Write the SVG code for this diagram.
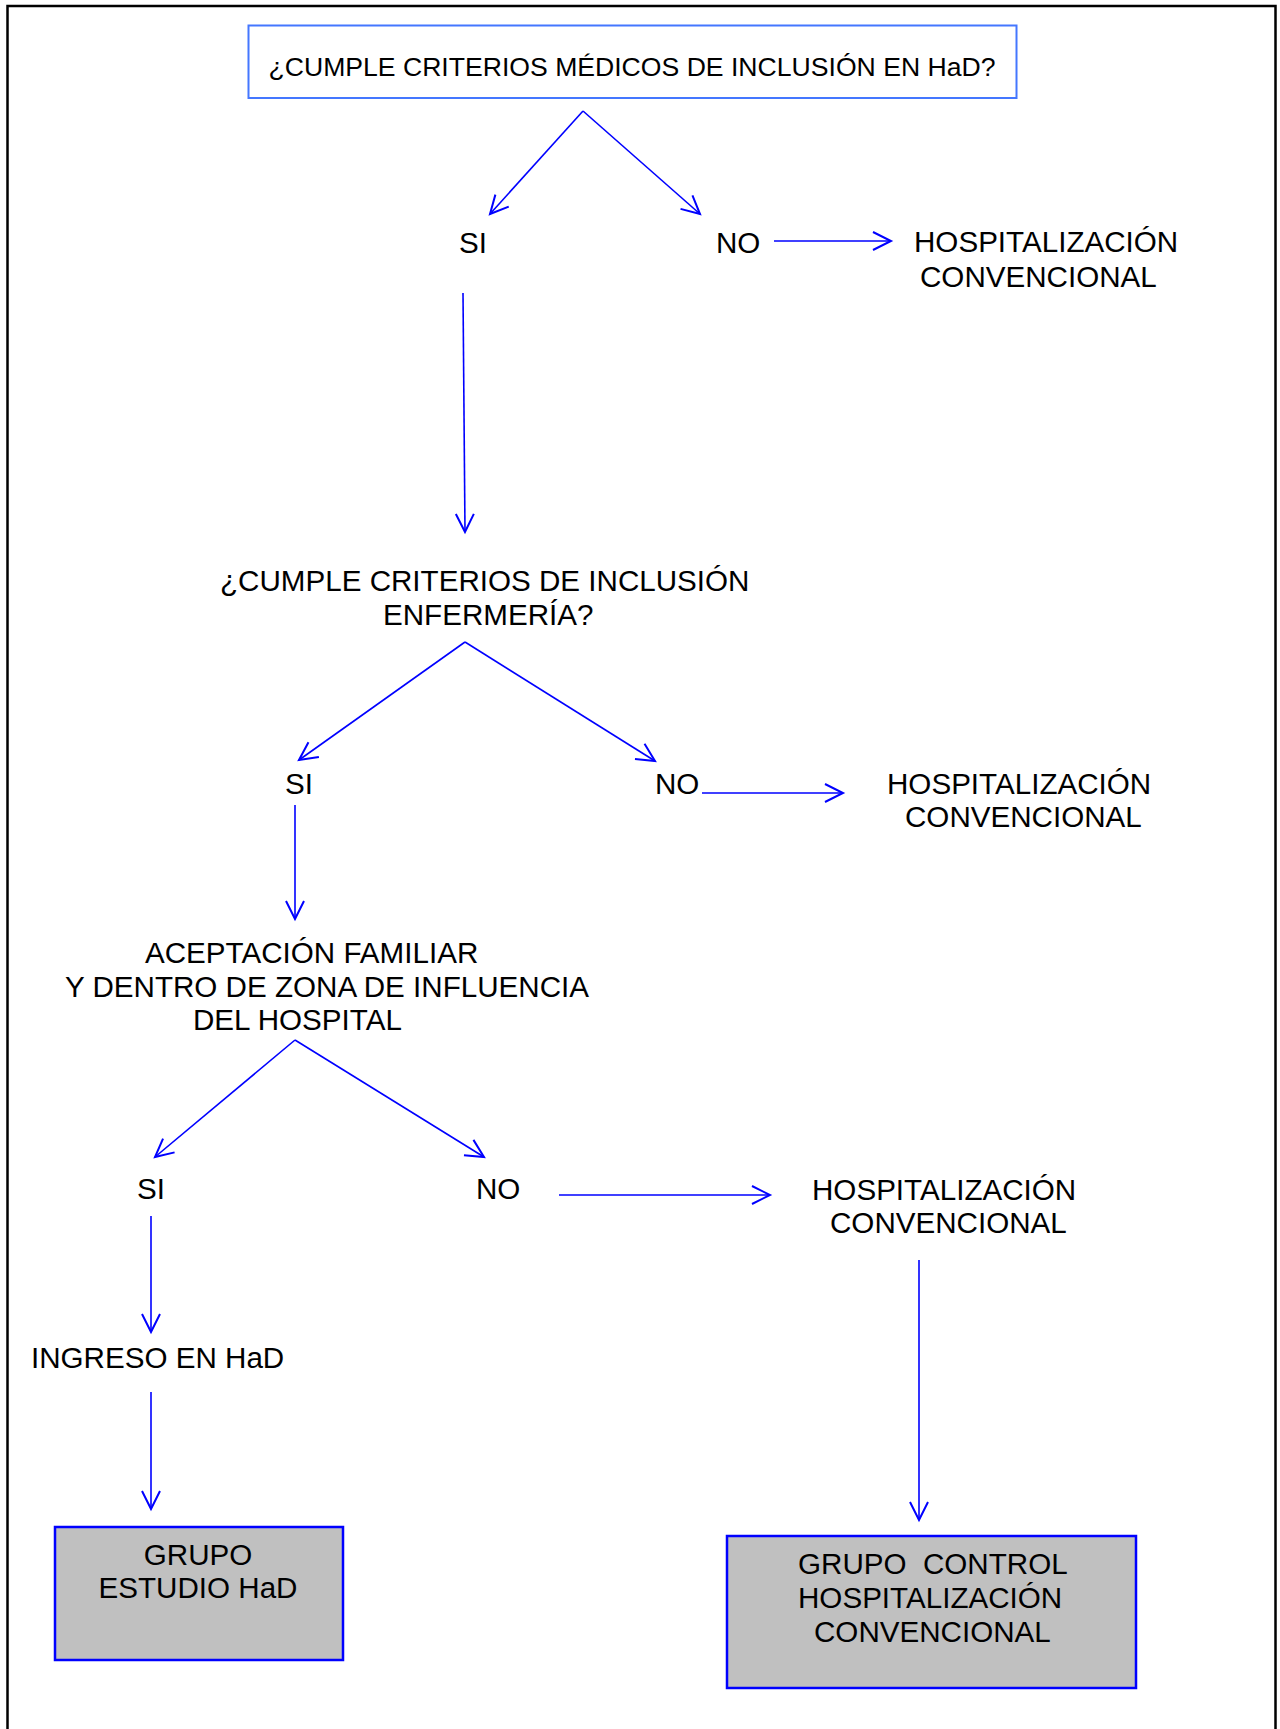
<svg xmlns="http://www.w3.org/2000/svg" width="1280" height="1729" viewBox="0 0 1280 1729">
<defs>
<marker id="arr" markerUnits="userSpaceOnUse" markerWidth="40" markerHeight="40" viewBox="-25 -20 40 40" refX="0" refY="0" orient="auto">
<path d="M-18,-9 L0,0 L-18,9" fill="none" stroke="#0000ff" stroke-width="2"/>
</marker>
</defs>
<style>
text{font-family:"Liberation Sans",Arial,sans-serif;font-size:29.6px;fill:#000}
.q{font-size:26.6px}
.c{fill:none;stroke:#0000ff;stroke-width:1.6;marker-end:url(#arr)}
.box{fill:#c0c0c0;stroke:#0000ff;stroke-width:2.5}
</style>
<rect x="0" y="0" width="1280" height="1729" fill="#fff"/>
<path d="M7.5,1729 V6 H1275.5 V1729" fill="none" stroke="#000" stroke-width="2.5"/>

<g id="q1">
<rect x="248.5" y="25.5" width="768" height="72.5" fill="#fff" stroke="#4477ff" stroke-width="2"/>
<text class="q" x="632" y="76" text-anchor="middle">¿CUMPLE CRITERIOS MÉDICOS DE INCLUSIÓN EN HaD?</text>
</g>
<g id="si1"><text x="459" y="253">SI</text></g>
<g id="no1"><text x="716" y="253">NO</text></g>
<g id="hc1"><text x="914" y="252">HOSPITALIZACIÓN</text><text x="920" y="287">CONVENCIONAL</text></g>

<g id="q2"><text x="220" y="591">¿CUMPLE CRITERIOS DE INCLUSIÓN</text><text x="383" y="625">ENFERMERÍA?</text></g>
<g id="si2"><text x="285" y="794">SI</text></g>
<g id="no2"><text x="655" y="794">NO</text></g>
<g id="hc2"><text x="887" y="794">HOSPITALIZACIÓN</text><text x="905" y="827">CONVENCIONAL</text></g>

<g id="q3"><text x="145" y="963">ACEPTACIÓN FAMILIAR</text><text x="65" y="997">Y DENTRO DE ZONA DE INFLUENCIA</text><text x="193" y="1030">DEL HOSPITAL</text></g>
<g id="si3"><text x="137" y="1199">SI</text></g>
<g id="no3"><text x="476" y="1199">NO</text></g>
<g id="hc3"><text x="812" y="1200">HOSPITALIZACIÓN</text><text x="830" y="1233">CONVENCIONAL</text></g>

<g id="ingreso"><text x="31" y="1368">INGRESO EN HaD</text></g>

<g id="grupoEstudio">
<rect class="box" x="55" y="1527" width="288" height="133"/>
<text x="198" y="1565" text-anchor="middle">GRUPO</text>
<text x="198" y="1598" text-anchor="middle">ESTUDIO HaD</text>
</g>
<g id="grupoControl">
<rect class="box" x="727" y="1536" width="409" height="152"/>
<text x="798" y="1574" xml:space="preserve">GRUPO  CONTROL</text>
<text x="798" y="1608">HOSPITALIZACIÓN</text>
<text x="814" y="1642">CONVENCIONAL</text>
</g>

<g id="connectors">
<path class="c" d="M583,111 L490,214"/>
<path class="c" d="M583,111 L700,214"/>
<path class="c" stroke-width="2" d="M774,241 L891,241"/>
<path class="c" d="M463,293 L465,532"/>
<path class="c" d="M465,642 L299,760"/>
<path class="c" d="M465,642 L655,761"/>
<path class="c" stroke-width="2" d="M702,793 L843,793"/>
<path class="c" d="M295,805 L295,919"/>
<path class="c" d="M295,1040 L155,1157"/>
<path class="c" d="M295,1040 L484,1157"/>
<path class="c" stroke-width="2" d="M559,1195 L770,1195"/>
<path class="c" d="M151,1216 L151,1332"/>
<path class="c" d="M151,1392 L151,1509"/>
<path class="c" d="M919,1260 L919,1520"/>
</g>
</svg>
